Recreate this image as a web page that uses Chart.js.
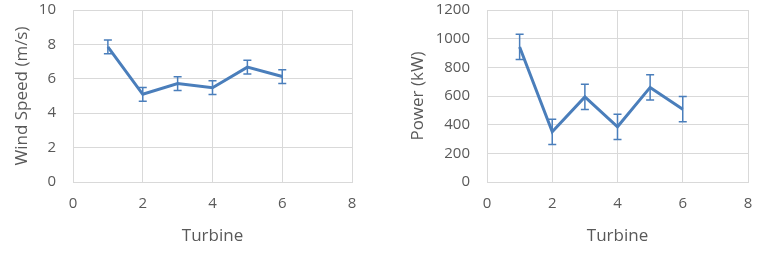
<!DOCTYPE html>
<html>
<head>
<meta charset="utf-8">
<script src="https://cdn.jsdelivr.net/npm/chart.js@4"></script>
<style>
  html, body { margin: 0; padding: 0; background: #fff; }
  .box { position: absolute; top: 0; height: 256px; }
  #leftBox { left: 0; width: 380px; }
  #rightBox { left: 380px; width: 379px; }
</style>
</head>
<body>
<div class="box" id="leftBox"><canvas id="windChart"></canvas></div>
<div class="box" id="rightBox"><canvas id="powerChart"></canvas></div>
<script>
let turbines = [1, 2, 3, 4, 5, 6]
let windSpeed = [7.85, 5.1, 5.72, 5.48, 6.68, 6.13]
let windSpeedErr = [0.4, 0.4, 0.4, 0.4, 0.4, 0.4]
let power = [942, 350, 594, 385, 660, 508]
let powerErr = [88, 88, 88, 88, 88, 88]

let lineColor = '#4a7ebb'
let gridColor = '#d9d9d9'
let textColor = '#595959'

// draws vertical error bars with caps, using the chart's own scales
let errorBars = {
    id: 'errorBars',
    beforeDatasetsDraw(chart) {
        let ctx = chart.ctx
        let xs = chart.scales.x
        let ys = chart.scales.y
        chart.data.datasets.forEach(ds => {
            if (!ds.errors) return
            ctx.save()
            ctx.strokeStyle = ds.borderColor
            ctx.lineWidth = 1.5
            ds.data.forEach((p, i) => {
                let x = xs.getPixelForValue(p.x)
                let top = ys.getPixelForValue(p.y + ds.errors[i])
                let bot = ys.getPixelForValue(p.y - ds.errors[i])
                ctx.beginPath()
                ctx.moveTo(x, top); ctx.lineTo(x, bot)
                ctx.moveTo(x - 4, top); ctx.lineTo(x + 4, top)
                ctx.moveTo(x - 4, bot); ctx.lineTo(x + 4, bot)
                ctx.stroke()
            })
            ctx.restore()
        })
    }
}

function makeChart(id, values, errors, yMax, yStep, yTitle, opts) {
    return new Chart(document.getElementById(id), {
        type: 'line',
        data: {
            datasets: [{
                data: turbines.map((t, i) => ({x: t, y: values[i]})),
                errors: errors,
                borderColor: lineColor,
                borderWidth: 3,
                pointRadius: 0,
                tension: 0
            }]
        },
        options: {
            animation: false,
            maintainAspectRatio: false,
            responsive: true,
            layout: {
                padding: {top: 10, right: opts.right, left: opts.left, bottom: 0}
            },
            scales: {
                x: {
                    type: 'linear',
                    min: 0,
                    max: 8,
                    ticks: {stepSize: 2, color: textColor, padding: 0, font: {family: 'Open Sans', size: 15}},
                    // invisible tick marks just push the labels away from the axis
                    grid: {color: gridColor, tickLength: 13, tickColor: 'rgba(0,0,0,0)'},
                    border: {color: gridColor},
                    title: {display: true, text: 'Turbine', color: textColor, font: {family: 'Open Sans', size: 17}, padding: {top: 0, bottom: 10}},
                    afterFit: s => { s.height = 74 }
                },
                y: {
                    min: 0,
                    max: yMax,
                    ticks: {stepSize: yStep, color: textColor, padding: 0, format: {useGrouping: false}, font: {family: 'Open Sans', size: 15}},
                    grid: {color: gridColor, tickLength: 17, tickColor: 'rgba(0,0,0,0)'},
                    border: {color: gridColor},
                    title: {display: true, text: yTitle, color: textColor, font: {family: 'Open Sans', size: 17}, padding: {top: opts.titlePad, bottom: 0}},
                    afterFit: s => { s.width = opts.yWidth }
                }
            },
            plugins: {
                legend: {display: false},
                tooltip: {enabled: false}
            }
        },
        plugins: [errorBars]
    })
}

let WindChart = makeChart('windChart', windSpeed, windSpeedErr, 10, 2, 'Wind Speed (m/s)',
    {left: 0, right: 28, yWidth: 73, titlePad: 12})
let PowerChart = makeChart('powerChart', power, powerErr, 1200, 200, 'Power (kW)',
    {left: 20, right: 11, yWidth: 87, titlePad: 8})
</script>
</body>
</html>
